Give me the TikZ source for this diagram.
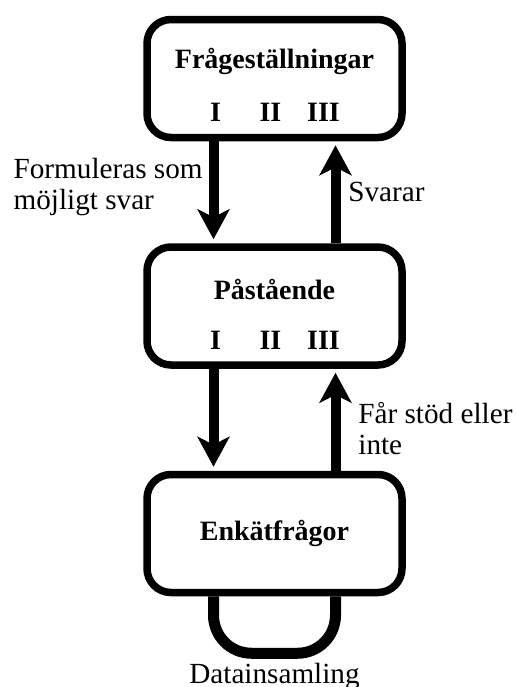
\documentclass[tikz,border=0pt]{standalone}
\usepackage{fontspec}
\setmainfont{Liberation Serif}
\usetikzlibrary{arrows.meta,calc,positioning}

\begin{document}
\begin{tikzpicture}[x=0.5pt,y=-0.5pt,font=\fontsize{14.6}{15.5}\selectfont]
  \def\cx{274.5}
  \def\dx{30.5pt}
  \tikzset{box/.style={draw=black,line width=3.75pt,rounded corners=12pt,minimum width=127.5pt,minimum height=59pt,inner sep=0pt}}
  \tikzset{ttl/.style={font=\fontsize{14}{15.5}\selectfont\bfseries,inner sep=0pt}}
  \tikzset{flow/.style={line width=5pt,-{Stealth[length=15pt,width=16pt,inset=4pt]},shorten >=2pt}}
  \tikzset{lbl/.style={align=left,inner sep=0pt}}

  \useasboundingbox (0,0) rectangle (516,687);

  % Boxes
  \node[box] (fq)  at (\cx,78.5)  {};
  \node[box] (pa)  at (\cx,306)   {};
  \node[box] (enk) at (\cx,533.5) {};

  % Titles and numerals
  \node[ttl] (fqT)   at ($(fq.center)+(0,-17)$)   {Frågeställningar};
  \node[ttl] (fqI)   at ($(fq.center)+(-59,34)$)  {I};
  \node[ttl] (fqII)  at ($(fq.center)+(-4,34)$)   {II};
  \node[ttl] (fqIII) at ($(fq.center)+(49,34)$)   {III};

  \node[ttl] (paT)   at ($(pa.center)+(0,-17)$)   {Påstående};
  \node[ttl] (paI)   at ($(pa.center)+(-59,34)$)  {I};
  \node[ttl] (paII)  at ($(pa.center)+(-4,34)$)   {II};
  \node[ttl] (paIII) at ($(pa.center)+(49,34)$)   {III};

  \node[ttl] (enkT)  at (enk.center) {Enkätfrågor};

  % Arrows between the boxes
  \draw[flow] ([xshift=-\dx]fq.south) -- ([xshift=-\dx]pa.north);
  \draw[flow] ([xshift=\dx]pa.north)  -- ([xshift=\dx]fq.south);
  \draw[flow] ([xshift=-\dx]pa.south) -- ([xshift=-\dx]enk.north);
  \draw[flow] ([xshift=\dx]enk.north) -- ([xshift=\dx]pa.south);

  % Arrow labels
  \node[lbl,anchor=east] (fqA) at ($(fq.south)!0.5!(pa.north)+(-71.5,-5)$) {Formuleras som\\möjligt svar};
  \node[lbl,anchor=west] (fqB) at ($(fq.south)!0.5!(pa.north)+(73.5,0)$)  {Svarar};
  \node[lbl,anchor=west] (paB) at ($(pa.south)!0.5!(enk.north)+(83.5,8.5)$) {Får stöd eller\\inte};

  % Loop under the last box
  \draw[line width=5.5pt,rounded corners=19pt] ([xshift=-\dx]enk.south) -- ++(0,57) -| ([xshift=\dx]enk.south);
  \node (dat) at ($(enk.south)+(0,80)$) {Datainsamling};
\end{tikzpicture}
\end{document}
